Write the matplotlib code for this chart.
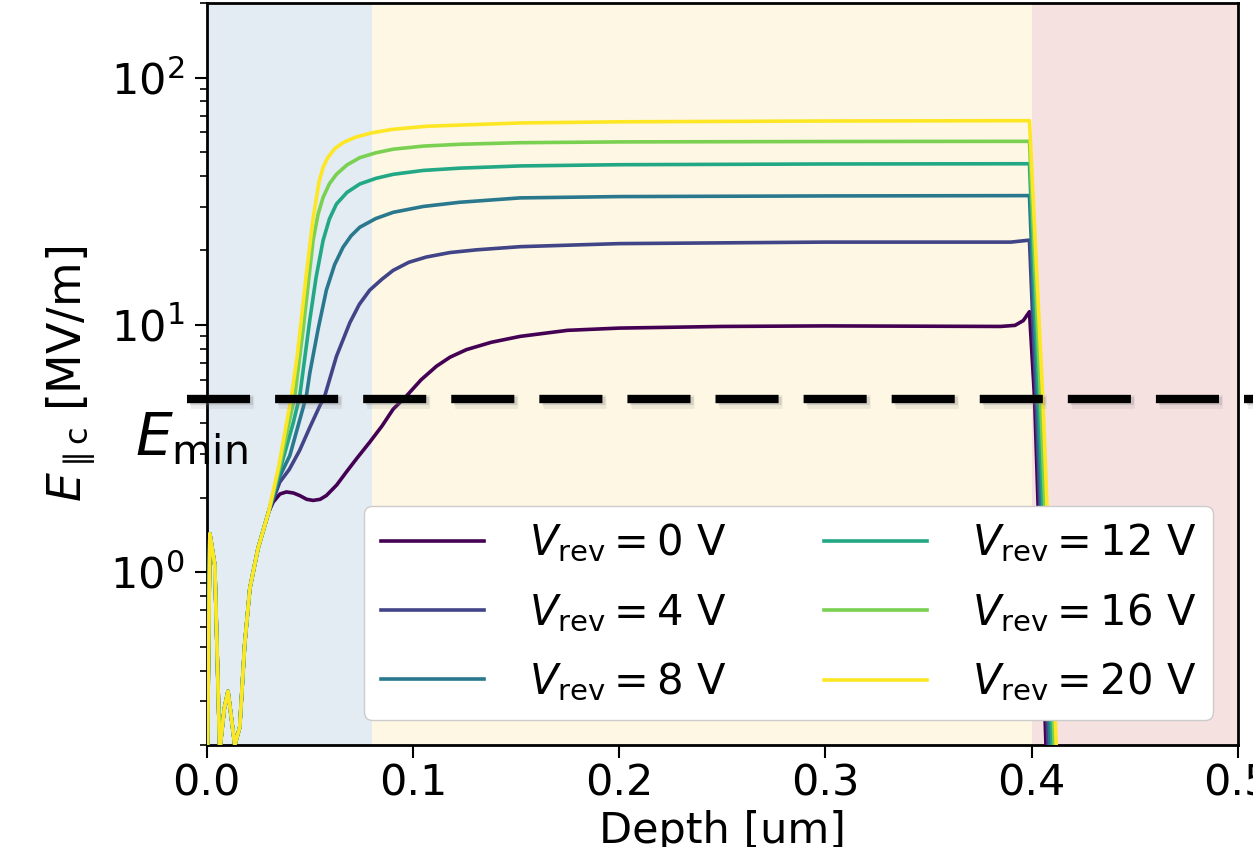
import numpy as np
import matplotlib
matplotlib.use('Agg')
import matplotlib.pyplot as plt
import matplotlib.patheffects as pe

## data (depth in um, field in MV/m)
v_rev = [0, 4, 8, 12, 16, 20]

# shared oscillating start near the surface
x_start = [0.0, 0.0015, 0.0039, 0.0063, 0.0085, 0.0103, 0.0136, 0.016, 0.0184, 0.0209, 0.0249]
y_start = [0.1, 1.43, 1.07, 0.19, 0.28, 0.33, 0.2, 0.236, 0.51, 0.86, 1.25]

# rise, plateau and back-interface drop, one pair per bias
x_0 = [0.030, 0.0322, 0.0355, 0.0386, 0.042, 0.0451, 0.0485, 0.0516, 0.055, 0.058, 0.063,
       0.0677, 0.073, 0.079, 0.085, 0.0904, 0.0968, 0.104, 0.1114, 0.118, 0.126, 0.138,
       0.152, 0.175, 0.2, 0.25, 0.3, 0.385, 0.392, 0.396, 0.399, 0.4015, 0.407, 0.41]
y_0 = [1.75, 1.92, 2.07, 2.11, 2.09, 2.04, 1.97, 1.95, 1.97, 2.04, 2.25,
       2.54, 2.9, 3.35, 3.9, 4.56, 5.15, 6.0, 6.8, 7.4, 7.94, 8.5,
       8.98, 9.5, 9.7, 9.85, 9.9, 9.85, 9.95, 10.4, 11.3, 5.0, 0.2, 0.1]
x_4 = [0.030, 0.0354, 0.040, 0.045, 0.050, 0.0548, 0.0572, 0.0629, 0.0694, 0.074, 0.079,
       0.085, 0.0904, 0.098, 0.1065, 0.118, 0.1308, 0.152, 0.2, 0.3, 0.39, 0.399,
       0.4022, 0.408, 0.411]
y_4 = [1.75, 2.31, 2.6, 3.1, 3.85, 4.7, 5.15, 7.46, 10.2, 12.1, 13.8,
       15.3, 16.6, 17.9, 18.8, 19.6, 20.1, 20.7, 21.3, 21.6, 21.6, 22.0,
       5.0, 0.2, 0.1]
x_8 = [0.030, 0.035, 0.0403, 0.0483, 0.050, 0.054, 0.058, 0.062, 0.0661, 0.070, 0.0742,
       0.082, 0.0904, 0.105, 0.1227, 0.152, 0.2, 0.3, 0.399, 0.4029, 0.409, 0.412]
y_8 = [1.75, 2.4, 2.96, 5.15, 6.4, 9.6, 13.8, 17.5, 20.6, 22.9, 24.8,
       26.9, 28.5, 30.1, 31.3, 32.6, 33.0, 33.2, 33.3, 5.0, 0.2, 0.1]
x_12 = [0.030, 0.035, 0.0419, 0.0451, 0.050, 0.053, 0.0564, 0.0595, 0.0629, 0.068, 0.0742,
        0.082, 0.0904, 0.105, 0.1227, 0.152, 0.2, 0.3, 0.399, 0.4036, 0.410, 0.413]
y_12 = [1.75, 2.5, 4.0, 5.15, 10.5, 15.5, 21.9, 26.8, 30.8, 34.3, 37.1,
        39.1, 40.6, 42.1, 43.0, 43.9, 44.4, 44.7, 44.8, 5.0, 0.2, 0.1]
x_16 = [0.030, 0.035, 0.0427, 0.0467, 0.0516, 0.054, 0.0564, 0.0595, 0.0629, 0.068, 0.0742,
        0.082, 0.0904, 0.105, 0.1227, 0.152, 0.2, 0.3, 0.399, 0.4044, 0.411, 0.414]
y_16 = [1.75, 2.6, 5.15, 9.5, 22.0, 28.0, 32.7, 37.2, 40.6, 44.3, 47.4,
        49.6, 51.3, 52.8, 53.7, 54.5, 54.9, 55.1, 55.2, 5.0, 0.2, 0.1]
x_20 = [0.030, 0.035, 0.0411, 0.0439, 0.0483, 0.0516, 0.0545, 0.0565, 0.0587, 0.062, 0.0661,
        0.072, 0.0799, 0.09, 0.1065, 0.152, 0.2, 0.3, 0.399, 0.4055, 0.412, 0.415]
y_20 = [1.75, 2.7, 5.15, 7.5, 16.0, 27.0, 38.0, 43.5, 47.4, 51.5, 54.5,
        57.3, 59.7, 61.7, 63.5, 65.5, 66.2, 66.7, 66.9, 5.0, 0.2, 0.1]

curves_x = [x_0, x_4, x_8, x_12, x_16, x_20]
curves_y = [y_0, y_4, y_8, y_12, y_16, y_20]

e_min = 5.0
regions = [(0.0, 0.08, '#e3ebf3'), (0.08, 0.4, '#fdf7e3'), (0.4, 0.5, '#f6e1e1')]

fs = 31
plt.rcParams['font.size'] = fs
plt.rcParams['mathtext.fontset'] = 'dejavusans'

fig = plt.figure(figsize=(12.53, 8.47), dpi=100)
ax = fig.add_axes([0.165, 0.1204, 0.8228, 0.876])

for x0, x1, c in regions:
    ax.axvspan(x0, x1, color=c, lw=0, zorder=0)

colors = plt.cm.viridis(np.linspace(0, 1, len(v_rev)))
for v, c, xs, ys in zip(v_rev, colors, curves_x, curves_y):
    ax.plot(x_start + xs, y_start + ys, color=c, lw=2.6,
            label=r'$V_\mathrm{rev} = %d$ V' % v, zorder=3)

ax.plot([-0.0095, 0.6], [e_min, e_min], color='k', lw=6, dashes=(7.57, 3.0),
        clip_on=False, zorder=5,
        path_effects=[pe.SimpleLineShadow(offset=(2.5, -2), shadow_color='gray',
                                          alpha=0.12, linewidth=10),
                      pe.SimpleLineShadow(offset=(2, -1.5), shadow_color='gray', alpha=0.25),
                      pe.Normal()])
fig.text(135 / 1253, 1 - 455 / 847, r'$E_\mathrm{min}$', fontsize=42,
         ha='left', va='baseline')

ax.set_yscale('log')
ax.set_xlim(0, 0.5)
ax.set_ylim(0.2, 200)
ax.set_xticks([0.0, 0.1, 0.2, 0.3, 0.4, 0.5])
ax.set_xlabel('Depth [um]', fontsize=fs)
ax.set_ylabel(r'$E_{\parallel \mathrm{c}}$ [MV/m]', fontsize=33, labelpad=9)
ax.tick_params(which='major', length=9, width=1.5, labelsize=fs)
ax.tick_params(axis='y', which='major', pad=7)
ax.tick_params(which='minor', length=5, width=1.2)
for s in ax.spines.values():
    s.set_linewidth(2)

ax.legend(ncol=2, fontsize=30, loc='lower right', bbox_to_anchor=(0.976, 0.034),
          borderaxespad=0, handlelength=2.47, handletextpad=1.08, columnspacing=2.35,
          labelspacing=0.65, framealpha=1.0)

plt.savefig('out.png', dpi=100)
